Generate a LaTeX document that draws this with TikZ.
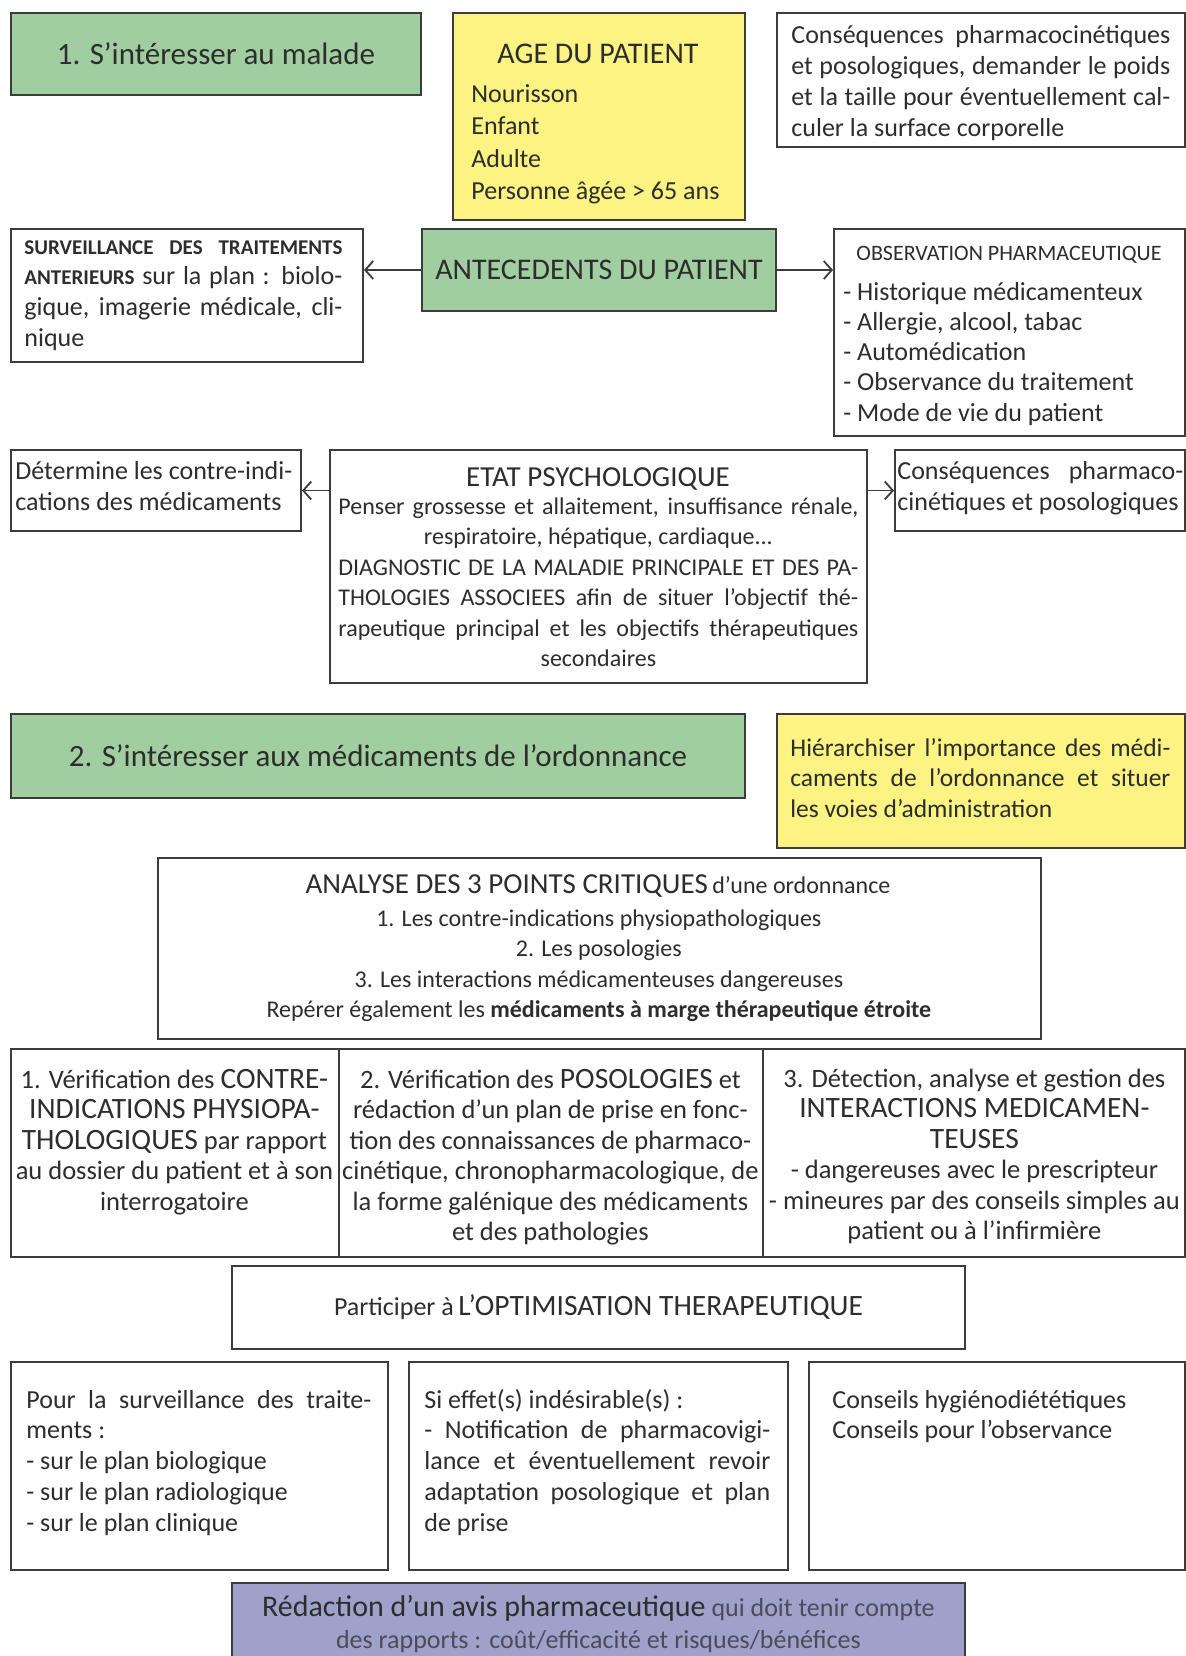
\documentclass[tikz,border=0pt]{standalone}
\usepackage{fontspec}
\setmainfont{Carlito}
\usetikzlibrary{arrows.meta,calc}
\definecolor{gfill}{RGB}{160,206,160}
\definecolor{yfill}{RGB}{252,243,130}
\definecolor{pfill}{RGB}{158,162,202}
\definecolor{bord}{RGB}{60,60,60}
\definecolor{tcol}{RGB}{45,45,45}
\definecolor{tlight}{RGB}{75,75,90}
\newcommand\jstline[1]{\makebox[\linewidth][s]{#1}\par}
\newcommand\lftline[1]{\makebox[\linewidth][l]{#1}\par}
\newcommand\ctrline[1]{\makebox[\linewidth][c]{#1}\par}
\newcommand\tblock[4]{\parbox[t]{#1pt}{\fontsize{#2}{#3}\selectfont #4}}
\newcommand\fsz[2]{{\fontsize{#1}{#1}\selectfont #2}}
\tikzset{
 box/.style={draw=bord, line width=1pt, rectangle, inner sep=0pt, anchor=north west, text=tcol, align=center},
 gbox/.style={box, fill=gfill},
 ybox/.style={box, fill=yfill},
 pbox/.style={box, fill=pfill},
 txt/.style={inner sep=0pt, text=tcol},
 arr/.style={draw=bord, line width=0.9pt, -{Straight Barb[length=4pt,width=9pt,line width=0.9pt]}},
}
\begin{document}
\begin{tikzpicture}[x=0.5pt,y=-0.5pt]
\useasboundingbox (0,0) rectangle (1186,1656);
\fill[white] (0,0) rectangle (1186,1656);
\clip (0,0) rectangle (1186,1656);

% --- row 1
\node[gbox, minimum width=205pt, minimum height=41pt, font=\fontsize{15.5}{18}\selectfont] (m1) at (10,12) {1. S’intéresser au malade};

\node[ybox, minimum width=146pt, minimum height=103.5pt] (age) at (452,12) {};
\node[txt, anchor=base, font=\fontsize{15}{18}\selectfont] (agetitle) at (598,63) {AGE DU PATIENT};
\node[txt, anchor=base west] (ageitems) at (471,102) {\tblock{130}{13}{16.3}{\lftline{Nourisson}\lftline{Enfant}\lftline{Adulte}\lftline{Personne âgée > 65 ans}}};

\node[box, minimum width=204pt, minimum height=67pt] (cons1) at (776,12) {};
\node[txt, anchor=base west] (cons1t) at (791,43) {\tblock{189.5}{13}{15.5}{%
\jstline{Conséquences pharmacocinétiques}%
\jstline{et posologiques, demander le poids}%
\jstline{et la taille pour éventuellement cal-}%
\lftline{culer la surface corporelle}}};

% --- row 2
\node[gbox, minimum width=177pt, minimum height=41pt, font=\fontsize{15}{18}\selectfont] (ante) at (421,228) {ANTECEDENTS DU PATIENT};

\node[box, minimum width=176pt, minimum height=66.5pt] (surv) at (10,228) {};
\node[txt, anchor=base west] (survt) at (24,254) {\tblock{159}{13}{15.4}{%
\jstline{\fsz{10.5}{\bfseries SURVEILLANCE DES TRAITEMENTS}}%
\jstline{\fsz{10.5}{\bfseries ANTERIEURS} sur la plan : biolo-}%
\jstline{gique, imagerie médicale, cli-}%
\lftline{nique}}};

\node[box, minimum width=175.5pt, minimum height=103.5pt] (obs) at (833,228) {};
\node[txt, anchor=base, font=\fontsize{11}{13}\selectfont] (obstitle) at (1009,260) {OBSERVATION PHARMACEUTIQUE};
\node[txt, anchor=base west] (obsitems) at (843,300) {\tblock{165}{13}{15.15}{%
\lftline{- Historique médicamenteux}%
\lftline{- Allergie, alcool, tabac}%
\lftline{- Automédication}%
\lftline{- Observance du traitement}%
\lftline{- Mode de vie du patient}}};

\draw[arr] (ante.west) -- (ante.west -| surv.east);
\draw[arr] (ante.east) -- (ante.east -| obs.west);

% --- row 3
\node[box, minimum width=145pt, minimum height=40.5pt] (det) at (10,449) {};
\node[txt, anchor=base west] (dett) at (15,479) {\tblock{142}{13}{15.5}{%
\lftline{Détermine les contre-indi-}%
\lftline{cations des médicaments}}};

\node[box, minimum width=268.5pt, minimum height=116.5pt] (etat) at (329,449) {};
\node[txt, anchor=base, font=\fontsize{14.5}{17}\selectfont] (etattitle) at (598,486) {ETAT PSYCHOLOGIQUE};
\node[txt, anchor=base west] (etatt) at (338,514) {\tblock{260}{12}{15.25}{%
\jstline{Penser grossesse et allaitement, insuffisance rénale,}%
\ctrline{respiratoire, hépatique, cardiaque...}%
\jstline{DIAGNOSTIC DE LA MALADIE PRINCIPALE ET DES PA-}%
\jstline{THOLOGIES ASSOCIEES afin de situer l’objectif thé-}%
\jstline{rapeutique principal et les objectifs thérapeutiques}%
\ctrline{secondaires}}};

\node[box, minimum width=145pt, minimum height=40.5pt] (cons2) at (894,449) {};
\node[txt, anchor=base west] (cons2t) at (897,479) {\tblock{143}{13}{15.5}{%
\jstline{Conséquences pharmaco-}%
\lftline{cinétiques et posologiques}}};

\draw[arr] (etat.west |- det.east) -- (det.east);
\draw[arr] (etat.east |- cons2.west) -- (cons2.west);

% --- part 2
\node[gbox, minimum width=367pt, minimum height=42pt, font=\fontsize{15.5}{18}\selectfont] (m2) at (10,713) {2. S’intéresser aux médicaments de l’ordonnance};

\node[ybox, minimum width=204pt, minimum height=67pt] (hier) at (776,713) {};
\node[txt, anchor=base west] (hiert) at (790,756) {\tblock{190}{12.75}{15.3}{%
\jstline{Hiérarchiser l’importance des médi-}%
\jstline{caments de l’ordonnance et situer}%
\lftline{les voies d’administration}}};

\node[box, minimum width=441.5pt, minimum height=90.5pt] (ana) at (157,857) {};
\node[txt, anchor=base] (anatitle) at (598,893) {\fsz{14.5}{ANALYSE DES 3 POINTS CRITIQUES} \fsz{12}{d’une ordonnance}};
\node[txt, anchor=base west] (anat) at (167,926) {\tblock{431.5}{12}{15.3}{%
\ctrline{1. Les contre-indications physiopathologiques}%
\ctrline{2. Les posologies}%
\ctrline{3. Les interactions médicamenteuses dangereuses}%
\ctrline{Repérer également les \textbf{médicaments à marge thérapeutique étroite}}}};

% --- table
\node[box, minimum width=164pt, minimum height=104pt] (c1) at (10,1048) {};
\node[box, minimum width=212pt, minimum height=104pt] (c2) at (338,1048) {};
\node[box, minimum width=211pt, minimum height=104pt] (c3) at (762,1048) {};

\node[txt, anchor=base west] (c1t) at (14,1088) {\tblock{160}{13.25}{15.25}{%
\ctrline{1. Vérification des \fsz{14.75}{CONTRE-}}%
\ctrline{\fsz{14.75}{INDICATIONS PHYSIOPA-}}%
\ctrline{\fsz{14.75}{THOLOGIQUES} par rapport}%
\ctrline{au dossier du patient et à son}%
\ctrline{interrogatoire}}};

\node[txt, anchor=base west] (c2t) at (340,1088) {\tblock{210}{13.25}{15.25}{%
\ctrline{2. Vérification des \fsz{14.75}{POSOLOGIES} et}%
\ctrline{rédaction d’un plan de prise en fonc-}%
\ctrline{tion des connaissances de pharmaco-}%
\ctrline{cinétique, chronopharmacologique, de}%
\ctrline{la forme galénique des médicaments}%
\ctrline{et des pathologies}}};

\node[txt, anchor=base west] (c3t) at (764,1087) {\tblock{210}{13.25}{15.25}{%
\ctrline{3. Détection, analyse et gestion des}%
\ctrline{\fsz{14.75}{INTERACTIONS MEDICAMEN-}}%
\ctrline{\fsz{14.75}{TEUSES}}%
\ctrline{- dangereuses avec le prescripteur}%
\ctrline{- mineures par des conseils simples au}%
\ctrline{patient ou à l’infirmière}}};

% --- optimisation
\node[box, minimum width=366.5pt, minimum height=41.5pt] (opt) at (231,1265) {\fsz{13}{Participer à} \fsz{14.75}{L’OPTIMISATION THERAPEUTIQUE}};

\node[box, minimum width=188.5pt, minimum height=104pt] (bA) at (10,1361) {};
\node[txt, anchor=base west] (bAt) at (26,1408) {\tblock{172.5}{13}{15.4}{%
\jstline{Pour la surveillance des traite-}%
\lftline{ments :}%
\lftline{- sur le plan biologique}%
\lftline{- sur le plan radiologique}%
\lftline{- sur le plan clinique}}};

\node[box, minimum width=189.5pt, minimum height=104pt] (bB) at (408,1361) {};
\node[txt, anchor=base west] (bBt) at (424,1408) {\tblock{173}{13}{15.4}{%
\lftline{Si effet(s) indésirable(s) :}%
\jstline{- Notification de pharmacovigi-}%
\jstline{lance et éventuellement revoir}%
\jstline{adaptation posologique et plan}%
\lftline{de prise}}};

\node[box, minimum width=188pt, minimum height=104pt] (bC) at (808,1361) {};
\node[txt, anchor=base west] (bCt) at (832,1408) {\tblock{170}{13}{15.4}{%
\lftline{Conseils hygiénodiététiques}%
\lftline{Conseils pour l’observance}}};

% --- avis
\node[pbox, minimum width=366.5pt, minimum height=44pt] (avis) at (231,1582) {};
\node[txt, anchor=base west] (avist) at (241,1616) {\tblock{357}{13}{16}{%
\ctrline{\fsz{15}{Rédaction d’un avis pharmaceutique} \textcolor{tlight}{qui doit tenir compte}}%
\ctrline{\textcolor{tlight}{des rapports : coût/efficacité et risques/bénéfices}}}};
\end{tikzpicture}
\end{document}
